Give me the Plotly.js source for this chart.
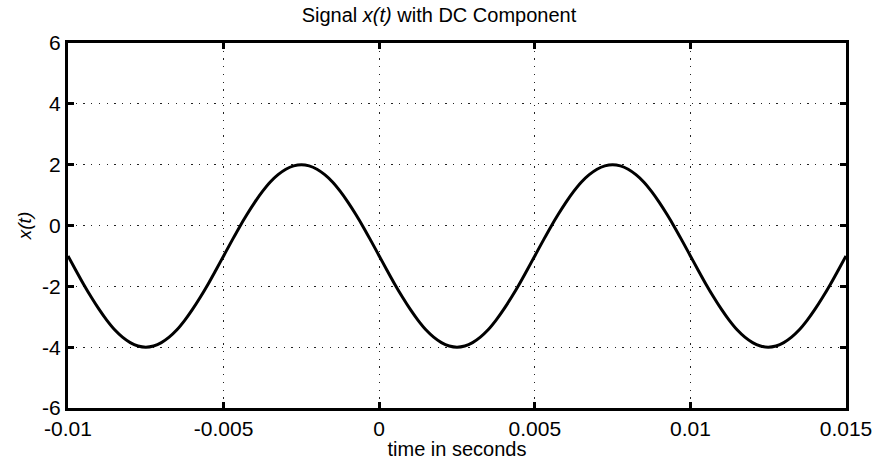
<!DOCTYPE html>
<html>
<head>
<meta charset="utf-8">
<script src="https://cdn.plot.ly/plotly-3.0.1.min.js"></script>
<style>html,body{margin:0;padding:0;background:#fff;}#chart{width:878px;height:460px;}</style>
</head>
<body>
<div id="chart"></div>
<script>
// Sampling grid of the signal (seconds)
var tStart = -0.01;
var tStep = 0.00025;
// Signal values, one every tStep from tStart to 0.015
var xValues = [
  -1, -1.47, -1.93, -2.36, -2.76, -3.12, -3.43, -3.67, -3.85, -3.96,
  -4, -3.96, -3.85, -3.67, -3.43, -3.12, -2.76, -2.36, -1.93, -1.47,
  -1, -0.53, -0.07, 0.36, 0.76, 1.12, 1.43, 1.67, 1.85, 1.96,
  2, 1.96, 1.85, 1.67, 1.43, 1.12, 0.76, 0.36, -0.07, -0.53,
  -1, -1.47, -1.93, -2.36, -2.76, -3.12, -3.43, -3.67, -3.85, -3.96,
  -4, -3.96, -3.85, -3.67, -3.43, -3.12, -2.76, -2.36, -1.93, -1.47,
  -1, -0.53, -0.07, 0.36, 0.76, 1.12, 1.43, 1.67, 1.85, 1.96,
  2, 1.96, 1.85, 1.67, 1.43, 1.12, 0.76, 0.36, -0.07, -0.53,
  -1, -1.47, -1.93, -2.36, -2.76, -3.12, -3.43, -3.67, -3.85, -3.96,
  -4, -3.96, -3.85, -3.67, -3.43, -3.12, -2.76, -2.36, -1.93, -1.47,
  -1
];
var xTickVals = [-0.01, -0.005, 0, 0.005, 0.01, 0.015];
var xTickText = ['-0.01', '-0.005', '0', '0.005', '0.01', '0.015'];
var yTickVals = [-6, -4, -2, 0, 2, 4, 6];
var yTickText = ['-6', '-4', '-2', '0', '2', '4', '6'];

var font = 'Liberation Sans, Arial, Helvetica, sans-serif';
var trace = {
  type: 'scatter', mode: 'lines',
  x0: tStart, dx: tStep, y: xValues,
  line: {color: '#000', width: 3, shape: 'spline'},
  hoverinfo: 'skip'
};
var axisCommon = {
  showline: true, linecolor: '#000', linewidth: 3, mirror: 'ticks',
  ticks: 'inside', ticklen: 6, tickwidth: 3, tickcolor: '#000',
  showgrid: true, gridcolor: '#222', gridwidth: 1, griddash: '1.3px,6.4px',
  zeroline: false, tickfont: {family: font, size: 21, color: '#000'}
};
var layout = {
  width: 878, height: 460,
  margin: {l: 68, r: 32, t: 43, b: 52},
  paper_bgcolor: '#fff', plot_bgcolor: '#fff',
  showlegend: false,
  title: {text: 'Signal <i>x(t)</i> with DC Component', font: {family: font, size: 20, color: '#000'}, x: 0.5, xanchor: 'center', y: 0.967, yanchor: 'middle', yref: 'container'},
  xaxis: Object.assign({}, axisCommon, {
    range: [-0.01, 0.015], tickmode: 'array', tickvals: xTickVals, ticktext: xTickText,
    title: {text: 'time in seconds', font: {family: font, size: 20, color: '#000'}, standoff: 0}
  }),
  yaxis: Object.assign({}, axisCommon, {
    range: [-6, 6], tickmode: 'array', tickvals: yTickVals, ticktext: yTickText,
    title: {text: '<i>x(t)</i>', font: {family: font, size: 19, color: '#000'}, standoff: 6}
  })
};
Plotly.newPlot('chart', [trace], layout, {displayModeBar: false, staticPlot: true});
</script>
</body>
</html>
